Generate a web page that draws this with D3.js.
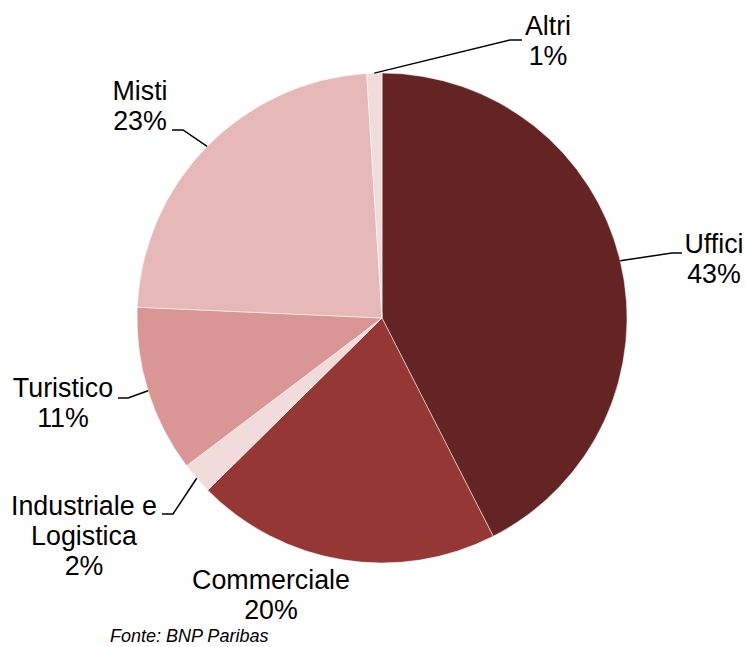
<!DOCTYPE html>
<html>
<head>
<meta charset="utf-8">
<script src="https://cdn.jsdelivr.net/npm/d3@7"></script>
<style>
  body { margin: 0; background: #fff; }
  text { font-family: "Liberation Sans", Arial, sans-serif; fill: #000; }
</style>
</head>
<body>
<div id="chart"></div>
<script>
// Data (slice sizes, label text as printed)
const categories = ["Uffici", "Commerciale", "Industriale e Logistica", "Turistico", "Misti", "Altri"];
const shares = [42.5, 20.1, 2.1, 11.0, 23.3, 1.0];
const shareLabels = ["43%", "20%", "2%", "11%", "23%", "1%"];
const colors = ["#632423", "#953735", "#f2dcdb", "#d99694", "#e6b9b8", "#f2dcdb"];

// Dimensions
const width = 745;
const height = 647;
const cx = 382;
const cy = 318;
const radius = 245;

// Label layout: text lines, anchor x, first baseline, elbow of the leader line
const labelLayout = [
  { lines: ["Uffici"], x: 714, y: 253, elbow: [672, 253], end: [682, 253] },
  { lines: ["Commerciale"], x: 271, y: 589 },
  { lines: ["Industriale e", "Logistica"], x: 84, y: 515, elbow: [173, 514], end: [162, 514] },
  { lines: ["Turistico"], x: 63, y: 397, elbow: [128, 398], end: [118, 398] },
  { lines: ["Misti"], x: 140, y: 100, elbow: [183, 130], end: [172, 130] },
  { lines: ["Altri"], x: 548, y: 35, elbow: [510, 40], end: [522, 40] }
];

const svg = d3
  .select("#chart")
  .append("svg")
  .attr("width", width)
  .attr("height", height);

const g = svg.append("g").attr("transform", `translate(${cx},${cy})`);

const pie = d3.pie().sort(null).value((d) => d);
const arcs = pie(shares);

const arc = d3.arc().innerRadius(0).outerRadius(radius);
const edge = d3.arc().innerRadius(radius).outerRadius(radius);

g.selectAll("path")
  .data(arcs)
  .enter()
  .append("path")
  .attr("d", arc)
  .attr("fill", (d, i) => colors[i])
  .attr("stroke", "#fff")
  .attr("stroke-opacity", 0.5)
  .attr("stroke-width", 1);

// Leader lines
arcs.forEach((d, i) => {
  const lay = labelLayout[i];
  if (!lay.elbow) return;
  const p = edge.centroid(d);
  const pts = [[p[0] + cx, p[1] + cy], lay.elbow, lay.end];
  svg
    .append("path")
    .attr("d", d3.line()(pts))
    .attr("fill", "none")
    .attr("stroke", "#000")
    .attr("stroke-width", 1.5);
});

// Labels
const lineHeight = 30;
arcs.forEach((d, i) => {
  const lay = labelLayout[i];
  const t = svg
    .append("text")
    .attr("x", lay.x)
    .attr("y", lay.y)
    .attr("text-anchor", "middle")
    .style("font-size", "26.8px");
  lay.lines.concat([shareLabels[i]]).forEach((s, k) => {
    t.append("tspan")
      .attr("x", lay.x)
      .attr("dy", k === 0 ? 0 : lineHeight)
      .text(s);
  });
});

// Source
svg
  .append("text")
  .attr("x", 110)
  .attr("y", 642)
  .style("font-size", "18px")
  .style("font-style", "italic")
  .text("Fonte: BNP Paribas");
</script>
</body>
</html>
